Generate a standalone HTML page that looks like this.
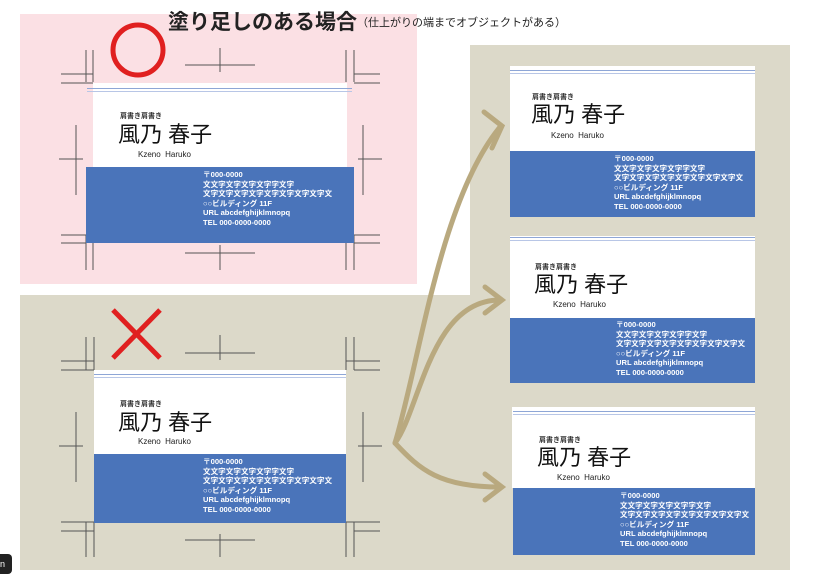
<!DOCTYPE html>
<html><head><meta charset="utf-8"><style>
*{margin:0;padding:0;box-sizing:border-box}
body{width:815px;height:576px;background:#fff;position:relative;overflow:hidden;font-family:"Liberation Sans","Noto Sans CJK JP",sans-serif}
.abs{position:absolute}
.wh{position:absolute;background:#fff}
.bl{position:absolute;background:#4a74ba}
.ln{position:absolute;height:1px;background:#8ea6d6}
.lab{position:absolute;font-size:7px;color:#333;font-weight:bold;white-space:nowrap}
.nm{position:absolute;font-size:22px;color:#111;white-space:nowrap;line-height:1}
.en{position:absolute;font-size:8px;color:#222;white-space:nowrap}
.ad{position:absolute;font-size:7.6px;line-height:9.5px;color:#fff;font-weight:bold;white-space:nowrap}
</style></head><body>
<div class="abs" style="left:20px;top:295px;width:770px;height:275px;background:#dcd9c9"></div>
<div class="abs" style="left:470px;top:45px;width:320px;height:525px;background:#dcd9c9"></div>
<div class="abs" style="left:20px;top:14px;width:397px;height:270px;background:#fbe0e4"></div>

<div class="abs" style="left:168px;top:6px;font-size:21px;font-weight:bold;color:#222;white-space:nowrap">塗り足しのある場合<span style="font-size:11px;font-weight:normal;vertical-align:3px">（仕上がりの端までオブジェクトがある）</span></div>

<svg class="abs" style="left:0;top:0" width="815" height="576">
<g stroke="#555" stroke-width="1" fill="none">
<path d="M86 50V82M93 50V82M61 74H93M61 83H93"/>
<path d="M346 50V82M354 50V82M354 74H380M354 83H380"/>
<path d="M86 235V270M93 235V270M61 235H86M61 243H86"/>
<path d="M346 235V270M354 235V270M354 235H380M354 243H380"/>
<path d="M185 65H255M220 48V72M185 253H255M220 245V270"/>
<path d="M76 125V195M59 159H83M363 125V195M358 159H382"/>
<path d="M86 337V370M94 337V370M61 361H94M61 370H94"/>
<path d="M346 337V370M354 337V370M346 361H380M354 370H380"/>
<path d="M86 522V557M94 522V557M61 522H94M61 531H94"/>
<path d="M346 522V557M354 522V557M346 522H380M354 531H380"/>
<path d="M185 353H255M220 335V360M185 540H255M220 534V557"/>
<path d="M76 412V482M59 446H83M363 412V482M358 446H382"/>
</g>
<circle cx="138" cy="50" r="25" stroke="#e02020" stroke-width="5" fill="none"/>
<path d="M113 310L160 358M160 310L113 358" stroke="#e02020" stroke-width="5"/>
<g stroke="#b9a97f" stroke-width="5" fill="none" stroke-linecap="round">
<path d="M395 443C420 360 440 200 500 127"/>
<path d="M395 443C420 410 430 300 500 300"/>
<path d="M395 443C420 470 440 487 500 487"/>
<path d="M484 112L502 126L492 148"/>
<path d="M485 287L502 300L485 313"/>
<path d="M485 474L502 487L485 500"/>
</g>
</svg>

<div class="wh" style="left:93px;top:83px;width:254px;height:84px"></div>
<div class="ln" style="left:87px;top:88px;width:265px"></div>
<div class="ln" style="left:87px;top:91px;width:265px;background:#b8c6e6"></div>
<div class="bl" style="left:86px;top:167px;width:268px;height:76px"></div>
<div class="lab" style="left:120px;top:111px">肩書き肩書き</div>
<div class="nm" style="left:118px;top:124px">風乃 春子</div>
<div class="en" style="left:138px;top:150px">Kzeno&nbsp; Haruko</div>
<div class="ad" style="left:203px;top:170px">〒000-0000<br>文文字文字文字文字字文字<br>文字文字文字文字文字文字文字文字文<br>○○ビルディング 11F<br>URL abcdefghijklmnopq<br>TEL 000-0000-0000</div>

<div class="wh" style="left:94px;top:370px;width:252px;height:84px"></div>
<div class="ln" style="left:94px;top:374px;width:252px"></div>
<div class="ln" style="left:94px;top:377px;width:252px;background:#b8c6e6"></div>
<div class="bl" style="left:94px;top:454px;width:252px;height:69px"></div>
<div class="lab" style="left:120px;top:399px">肩書き肩書き</div>
<div class="nm" style="left:118px;top:412px">風乃 春子</div>
<div class="en" style="left:138px;top:437px">Kzeno&nbsp; Haruko</div>
<div class="ad" style="left:203px;top:457px">〒000-0000<br>文文字文字文字文字字文字<br>文字文字文字文字文字文字文字文字文<br>○○ビルディング 11F<br>URL abcdefghijklmnopq<br>TEL 000-0000-0000</div>

<div class="wh" style="left:510px;top:66px;width:245px;height:85px"></div>
<div class="ln" style="left:510px;top:70px;width:245px"></div>
<div class="ln" style="left:510px;top:73px;width:245px;background:#b8c6e6"></div>
<div class="bl" style="left:510px;top:151px;width:245px;height:66px"></div>
<div class="lab" style="left:532px;top:92px">肩書き肩書き</div>
<div class="nm" style="left:531px;top:104px">風乃 春子</div>
<div class="en" style="left:551px;top:131px">Kzeno&nbsp; Haruko</div>
<div class="ad" style="left:614px;top:154px">〒000-0000<br>文文字文字文字文字字文字<br>文字文字文字文字文字文字文字文字文<br>○○ビルディング 11F<br>URL abcdefghijklmnopq<br>TEL 000-0000-0000</div>

<div class="wh" style="left:510px;top:236px;width:245px;height:82px"></div>
<div class="ln" style="left:510px;top:237px;width:245px"></div>
<div class="ln" style="left:510px;top:240px;width:245px;background:#b8c6e6"></div>
<div class="bl" style="left:510px;top:318px;width:245px;height:65px"></div>
<div class="lab" style="left:535px;top:262px">肩書き肩書き</div>
<div class="nm" style="left:534px;top:274px">風乃 春子</div>
<div class="en" style="left:553px;top:300px">Kzeno&nbsp; Haruko</div>
<div class="ad" style="left:616px;top:320px">〒000-0000<br>文文字文字文字文字字文字<br>文字文字文字文字文字文字文字文字文<br>○○ビルディング 11F<br>URL abcdefghijklmnopq<br>TEL 000-0000-0000</div>

<div class="wh" style="left:512px;top:407px;width:243px;height:81px"></div>
<div class="ln" style="left:513px;top:411px;width:242px"></div>
<div class="ln" style="left:513px;top:414px;width:242px;background:#b8c6e6"></div>
<div class="bl" style="left:513px;top:488px;width:242px;height:67px"></div>
<div class="lab" style="left:539px;top:435px">肩書き肩書き</div>
<div class="nm" style="left:537px;top:447px">風乃 春子</div>
<div class="en" style="left:557px;top:473px">Kzeno&nbsp; Haruko</div>
<div class="ad" style="left:620px;top:491px">〒000-0000<br>文文字文字文字文字字文字<br>文字文字文字文字文字文字文字文字文<br>○○ビルディング 11F<br>URL abcdefghijklmnopq<br>TEL 000-0000-0000</div>

<div class="abs" style="left:0;top:554px;width:12px;height:20px;background:#222;border-radius:0 4px 4px 0;color:#fff;font-size:9px;line-height:20px">n</div>
</body></html>
